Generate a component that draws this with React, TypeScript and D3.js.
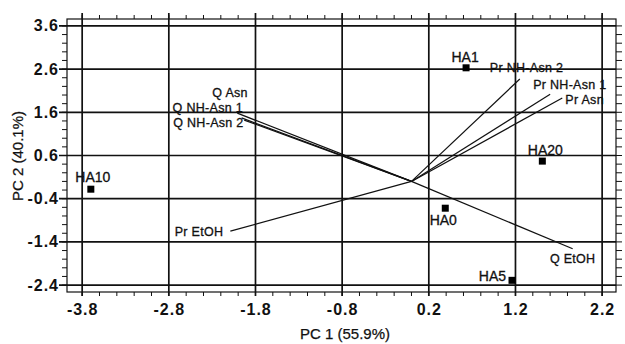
import React from "react";
import * as d3 from "d3";

// Scores (samples)
const sampleNames = ["HA1", "HA20", "HA10", "HA0", "HA5"];
const samplePC1 = [0.63, 1.51, -3.7, 0.39, 1.16];
const samplePC2 = [2.63, 0.47, -0.18, -0.62, -2.29];

// Loadings (variables)
const loadingNames = ["Q Asn", "Q NH-Asn 1", "Q NH-Asn 2", "Q EtOH", "Pr Asn", "Pr NH-Asn 1", "Pr NH-Asn 2", "Pr EtOH"];
const loadingPC1 = [-2.01, -1.96, -1.93, 1.86, 1.74, 1.6, 1.25, -2.09];
const loadingPC2 = [1.58, 1.47, 1.42, -1.56, 1.93, 2.02, 2.37, -1.15];

const xTicks = [-3.8, -2.8, -1.8, -0.8, 0.2, 1.2, 2.2];
const yTicks = [3.6, 2.6, 1.6, 0.6, -0.4, -1.4, -2.4];
const xTitle = "PC 1 (55.9%)";
const yTitle = "PC 2 (40.1%)";

// label placement (layout)
const sampleLabelPos: [number, number, string][] = [
  [-1, -6, "middle"],
  [3, -6, "middle"],
  [2, -7, "middle"],
  [-2, 17, "middle"],
  [-6, 1, "end"],
];
const loadingLabelPos: [number, number, string][] = [
  [-25, -16, "start"],
  [-69, -6, "start"],
  [-71, 7, "start"],
  [0, 14, "middle"],
  [3, 6, "start"],
  [-17, -5, "start"],
  [-30, -7, "start"],
  [-7, 5, "end"],
];

const W = 625, H = 344;
const FONT = "'Liberation Sans', Arial, sans-serif";

export default function App() {
  const x = d3.scaleLinear().domain([-3.975, 2.36]).range([67, 616]);
  const y = d3.scaleLinear().domain([3.76, -2.56]).range([19, 292]);
  const [x0, x1] = x.range();
  const [y0, y1] = y.range();
  const minorX = d3.range(-3.8, 2.3, 0.2).map((v) => +v.toFixed(2));
  const minorY = d3.range(-2.4, 3.7, 0.2).map((v) => +v.toFixed(2));
  const stroke = "#111";
  const fmt = (v: number) => d3.format(".1f")(v).replace("−", "-");

  return (
    <svg width={W} height={H} style={{ position: "absolute", left: 0, top: 0, background: "#fff" }} fontFamily={FONT}>
      <rect x={0} y={0} width={W} height={H} fill="#fff" />
      {/* frame */}
      <rect x={x0} y={y0} width={x1 - x0} height={y1 - y0} fill="none" stroke={stroke} strokeWidth={1.2} />
      {/* minor ticks */}
      {minorX.map((v, i) => (
        <g key={"mx" + i}>
          <line x1={x(v)} x2={x(v)} y1={y0} y2={y0 - 4} stroke={stroke} strokeWidth={1} />
          <line x1={x(v)} x2={x(v)} y1={y1} y2={y1 + 4} stroke={stroke} strokeWidth={1} />
        </g>
      ))}
      {minorY.map((v, i) => (
        <g key={"my" + i}>
          <line x1={x0} x2={x0 - 5} y1={y(v)} y2={y(v)} stroke={stroke} strokeWidth={1} />
          <line x1={x1} x2={x1 + 6} y1={y(v)} y2={y(v)} stroke={stroke} strokeWidth={1} />
        </g>
      ))}
      {/* grid lines */}
      {xTicks.map((v) => (
        <line key={"gx" + v} x1={x(v)} x2={x(v)} y1={y0 - 6} y2={y1 + 4} stroke={stroke} strokeWidth={1.7} />
      ))}
      {yTicks.map((v) => (
        <line key={"gy" + v} x1={x0 - 8} x2={x1} y1={y(v)} y2={y(v)} stroke={stroke} strokeWidth={1.7} />
      ))}
      {/* tick labels */}
      {xTicks.map((v) => (
        <text key={"tx" + v} x={x(v) + 0.5} y={315} textAnchor="middle" fontSize={16} fontWeight="bold" letterSpacing={1} fill="#111">
          {fmt(v)}
        </text>
      ))}
      {yTicks.map((v) => (
        <text key={"ty" + v} x={59} y={y(v) + 5.5} textAnchor="end" fontSize={16} fontWeight="bold" letterSpacing={1} fill="#111">
          {fmt(v)}
        </text>
      ))}
      {/* axis titles */}
      <text x={345} y={339} textAnchor="middle" fontSize={15} fill="#111" stroke="#111" strokeWidth={0.25}>{xTitle}</text>
      <text transform={`translate(23,156) rotate(-90)`} textAnchor="middle" fontSize={15} fill="#111" stroke="#111" strokeWidth={0.25}>{yTitle}</text>
      {/* loading vectors */}
      {loadingNames.map((n, i) => (
        <line key={"lv" + i} x1={x(0)} y1={y(0)} x2={x(loadingPC1[i])} y2={y(loadingPC2[i])} stroke={stroke} strokeWidth={1.2} />
      ))}
      {loadingNames.map((n, i) => (
        <text key={"lt" + i} x={x(loadingPC1[i]) + loadingLabelPos[i][0]} y={y(loadingPC2[i]) + loadingLabelPos[i][1]}
          textAnchor={loadingLabelPos[i][2] as any} fontSize={12.5} letterSpacing={0.3} fill="#111" stroke="#111" strokeWidth={0.3}>
          {n}
        </text>
      ))}
      {/* sample points */}
      {sampleNames.map((n, i) => (
        <rect key={"sp" + i} x={x(samplePC1[i]) - 3.5} y={y(samplePC2[i]) - 3.5} width={7} height={7} fill="#000" />
      ))}
      {sampleNames.map((n, i) => (
        <text key={"st" + i} x={x(samplePC1[i]) + sampleLabelPos[i][0]} y={y(samplePC2[i]) + sampleLabelPos[i][1]}
          textAnchor={sampleLabelPos[i][2] as any} fontSize={14} fill="#111" stroke="#111" strokeWidth={0.3}>
          {n}
        </text>
      ))}
    </svg>
  );
}
